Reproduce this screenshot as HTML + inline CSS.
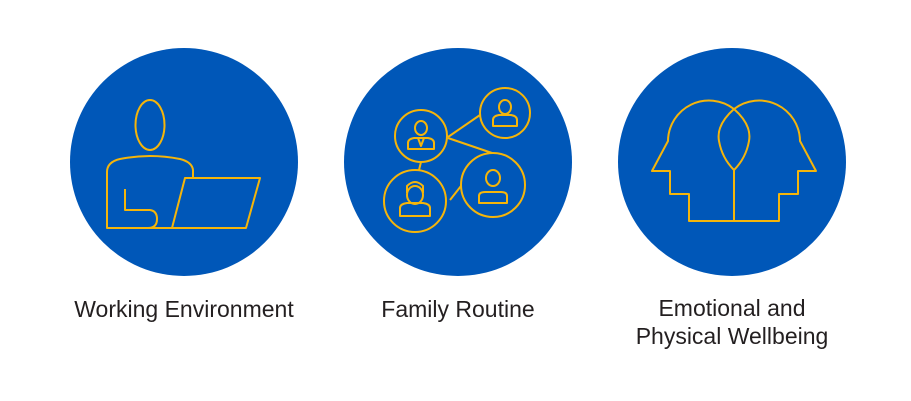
<!DOCTYPE html>
<html><head><meta charset="utf-8"><style>
html,body{margin:0;padding:0;background:#fff;}
svg{display:block}
text{font-family:"Liberation Sans",sans-serif;font-size:23px;fill:#231f20;}
</style></head><body>
<svg width="911" height="401" viewBox="0 0 911 401" xmlns="http://www.w3.org/2000/svg">
<g fill="#0057b8">
<circle cx="184" cy="162" r="114"/>
<circle cx="458" cy="162" r="114"/>
<circle cx="732" cy="162" r="114"/>
</g>
<g fill="none" stroke="#f5b50a" stroke-width="2" stroke-linejoin="round">
<ellipse cx="150" cy="125" rx="14.5" ry="25"/>
<path d="M193,177 L193,170 Q192,162 180,159 Q150,153 120,159 Q107,162 107,172 L107,228 L172,228"/>
<path d="M125,189 L125,210 L150,210 Q157,211 157,219 Q157,228 148,228"/>
<polygon points="172,228 185,178 260,178 246,228"/>
<circle cx="421" cy="136" r="26"/>
<circle cx="505" cy="113" r="25"/>
<circle cx="415" cy="201" r="31"/>
<circle cx="493" cy="185" r="32"/>
<line x1="448" y1="137" x2="480" y2="115"/>
<line x1="448" y1="138" x2="492" y2="153"/>
<line x1="421" y1="162" x2="419" y2="170"/>
<line x1="450" y1="200" x2="461" y2="186"/>
<ellipse cx="421" cy="128" rx="6" ry="7"/>
<path d="M408,149 L408,143 Q408,139 414,138 L428,138 Q434,139 434,143 L434,149 Z"/>
<path d="M418,138 L421,146 L424,138"/>
<ellipse cx="505" cy="107" rx="6" ry="7"/>
<path d="M493,126 L493,120 Q493,116 499,115 L511,115 Q517,116 517,120 L517,126 Z"/>
<ellipse cx="415" cy="195" rx="8" ry="9"/>
<path d="M407,193 L407,186 Q415,178 423,186 L423,193"/>
<path d="M400,216 L400,208 Q400,204 407,203 L423,203 Q430,204 430,208 L430,216 Z"/>
<ellipse cx="493" cy="178" rx="7" ry="8"/>
<path d="M479,203 L479,196 Q479,192 485,192 L501,192 Q507,192 507,196 L507,203 Z"/>
<path d="M734,109 A41,41 0 0 0 668,141 L652,171 L670,171 L670,194 L689,194 L689,221 L779,221 L779,194 L798,194 L798,171 L816,171 L800,141 A41,41 0 0 0 734,109"/>
<path d="M734,109 Q752,125 749,141 Q746,158 734,170 Q722,158 719,141 Q716,125 734,109 Z"/>
<line x1="734" y1="170" x2="734" y2="221"/>
</g>
<text x="184" y="317" text-anchor="middle">Working Environment</text>
<text x="458" y="317" text-anchor="middle">Family Routine</text>
<text x="732" y="316" text-anchor="middle">Emotional and</text>
<text x="732" y="344" text-anchor="middle">Physical Wellbeing</text>
</svg>
</body></html>
